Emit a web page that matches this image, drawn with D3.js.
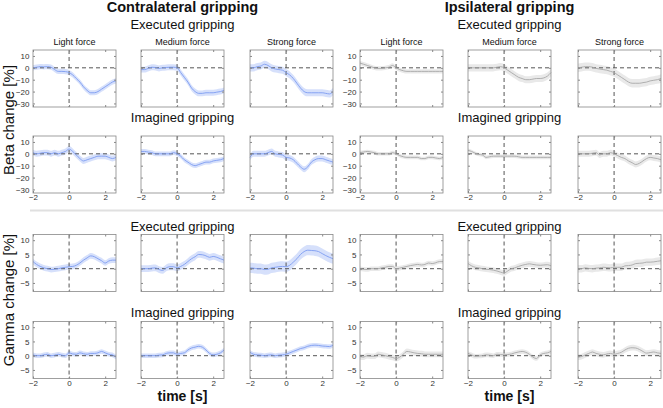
<!DOCTYPE html>
<html><head><meta charset="utf-8">
<script src="https://cdn.jsdelivr.net/npm/d3@7"></script>
<style>body{margin:0;background:#fff}svg{display:block;font-family:"Liberation Sans",Arial,sans-serif}</style>
</head><body><svg id="c" width="663" height="408"></svg>
<script>
const time = [-2,-1.8,-1.6,-1.4,-1.2,-1.0,-0.8,-0.6,-0.4,-0.2,0,0.2,0.4,0.6,0.8,1.0,1.2,1.4,1.6,1.8,2.0,2.2,2.4,2.6];
const groups = ["Contralateral gripping","Ipsilateral gripping"];
const forces = ["Light force","Medium force","Strong force"];
const conditions = ["Executed gripping","Imagined gripping","Executed gripping","Imagined gripping"];
const yLabels = ["Beta change [%]","Gamma change [%]"];
const xTicks = [-2,0,2];
const betaTicks = [10,0,-10,-20,-30];
const gammaTicks = [10,5,0,-5];

// Beta, executed
const betaExecContra = [
 [0,0.5,1,0.8,1,0.5,-1.5,-3,-3,-3.2,-4,-6,-9,-12,-16,-19,-21,-21,-20,-18,-16,-14,-12,-11],
 [-1.5,-1.5,-0.5,0.5,0.3,-0.5,0,0.3,0.5,0.5,0,-4,-8,-12,-17,-20,-21.5,-21.5,-21,-21,-21,-20.5,-20,-19],
 [0,0,1,1.5,3,2,0,-1,-1.5,-2,-4,-6,-9,-13,-17,-20,-21,-21,-21,-21,-21,-21.5,-22,-20]];
const betaExecIpsi = [
 [4,3,2,1,0,-0.5,-0.5,0,0.5,2,0,-1.5,-2.5,-3,-3,-3,-3,-3,-3,-3,-3,-3,-3,-3],
 [0,0,0,0,0,0,0,0,0.5,1,0,-2,-4,-6,-8,-9,-10,-10,-9.5,-9,-9,-8.5,-7,-4],
 [0,0.5,1,1,0.5,-0.5,-1,-1.5,-2,-3,-4,-6,-8,-10,-12,-13,-13,-13,-12.5,-12,-11,-10.5,-10,-9]];
// Beta, imagined
const betaImagContra = [
 [1,0,0.5,1,1,0,1,0,1,2,4,2,-1,-4,-6,-5,-4,-3,-2,-2,-2,-3,-4,-3],
 [2,2,1.5,1,0,0,0,0,0,1,0,-2,-5,-7,-9,-10,-9,-8,-7,-7,-6,-5.5,-5,-4],
 [-3,0,0,0,0,1,2,0,-0.5,-1,-3,-3.5,-5,-8,-11,-13,-11,-7,-5,-4,-4,-5,-6,-7]];
const betaImagIpsi = [
 [1,1.5,2,1.5,1,0,0,0,0,1,0,-1.5,-2.5,-3,-3,-3,-3,-4,-4,-3,-3,-3.5,-4,-3],
 [3,2,0.5,-0.5,-1,-3,-2.5,-2,-2,-2,-2,-2,-2,-2,-2.5,-3,-3,-3,-3,-3,-3,-3,-3,-3],
 [0,0,0,0,0.5,1,-1,0,0,1,0,-1.5,-3,-4,-6,-7.5,-9,-8,-6,-4,-3,-3.5,-4,-5]];
// Gamma, executed
const gammaExecContra = [
 [2.5,1.5,0.8,0.3,0,-0.3,-0.2,0,0.3,0.5,0.7,0.8,1.2,2,3,3.8,4.5,4.2,3.5,2.8,2,2.7,3,3],
 [0,0,0,0.2,0.3,-0.3,-0.6,0.3,0.7,0.7,0.3,0.8,1.5,2.5,3.5,4.2,5,4.9,4.5,4,4.3,4,3.5,3],
 [0.3,0.2,0,0,-0.3,-0.2,0.3,0.5,0.7,0.8,0.7,1.2,2.3,3.5,5,6,6.5,6.4,6.3,6,5.3,4.6,4,3.5]];
const gammaExecIpsi = [
 [0,-0.2,-0.3,0,0,0,0.3,0.5,0.8,0.8,0,0.2,0.5,0.8,1.1,1.3,1.5,1.3,1.5,2,1.8,2.1,2.5,2.5],
 [1.8,1,0.5,0.3,0,-0.2,-0.3,-0.5,-0.8,-1.2,-1.5,-0.8,0,0.3,0.8,1.2,1.5,1.7,1.5,1.3,1.2,1.3,1.4,1],
 [0,0,0.3,0.1,0,0.2,0.3,0.5,0.4,0.3,0.5,0.5,0.5,1,1.1,1.3,1.8,1.9,2,2.3,2.3,2.4,2.6,2.8]];
// Gamma, imagined
const gammaImagContra = [
 [0.3,0,0,0.3,0.5,0,0.2,0.5,0.2,0,1,0.6,0.5,1,0.7,0.5,0.8,0.8,1,1.5,1,0.5,0.3,-0.5],
 [0,0,0,0,0,0.2,0.3,0.8,1,1,0.5,0.8,1,2,2.7,3,3.3,3,2,0.8,0.3,0.5,1,2],
 [1.2,0.5,0.3,0.2,0,0.2,0.3,0,0.2,0.3,0.5,1,1.5,2,2.5,2.8,3.3,3.6,3.7,3.6,3.4,3.3,3.2,3.7]];
const gammaImagIpsi = [
 [-0.3,-0.5,0,-0.2,-0.2,0.5,0.3,0,-0.3,-0.6,-1,-0.5,0.5,1.5,1.3,1,0.8,0.7,0.5,0.5,0.5,0.5,0.5,0.5],
 [0.8,0.3,-0.2,-0.1,0,0.3,0.2,0,0.5,0.4,0.3,0.4,0.6,1,1.3,1.5,1.2,0.5,-0.5,-1,0.3,0.8,1,1.5],
 [-0.5,-0.3,0.3,0.8,1.3,0.8,0.5,0.3,0.6,0.8,0.5,0.8,1.2,2,2.6,2.8,2.7,2.2,1.5,0.9,1.1,1.3,1,0.8]];
// Band half-widths (SEM) per panel: rows x 6 columns
const semRows = [
 [2.2,2.5,3,1.8,3,3.5],
 [2.5,2,2.5,1.5,1.5,2.5],
 [1,1.2,1.8,0.8,1,1.3],
 [0.8,0.8,0.8,1,0.8,1]];

const rowData = [
 [...betaExecContra,...betaExecIpsi],
 [...betaImagContra,...betaImagIpsi],
 [...gammaExecContra,...gammaExecIpsi],
 [...gammaImagContra,...gammaImagIpsi]];

const svg = d3.select("#c");
const colLeft = [33,141,250,360,468,578];
const pw = 83, ph = 57;
const rowTop = [50,136,234.5,321.5];
const condBaseline = [29,121.5,231,316.5];
const blue = "#7d9cf2", blueBand = "#d6e0fb";
const grey = "#a8a8a8", greyBand = "#e9e9e9";
const frame = "#888";

const x = d3.scaleLinear().domain([-2,2.6]).range([0,pw]);
const yBeta = d3.scaleLinear().domain([-33,15]).range([ph,0]);
const yGamma = d3.scaleLinear().domain([-8,12]).range([ph,0]);

// titles
[0,1].forEach(g=>{
  const cx = colLeft[g*3+1]+pw/2;
  svg.append("text").attr("x",cx).attr("y",12).attr("text-anchor","middle")
    .attr("font-size",14.5).attr("font-weight","bold").attr("fill","#111").text(groups[g]);
  svg.append("text").attr("x",cx).attr("y",400.5).attr("text-anchor","middle")
    .attr("font-size",14).attr("font-weight","bold").attr("fill","#111").text("time [s]");
  conditions.forEach((c,r)=>{
    svg.append("text").attr("x",cx).attr("y",condBaseline[r]).attr("text-anchor","middle")
      .attr("font-size",13).attr("fill","#111").text(c);
  });
  forces.forEach((f,i)=>{
    svg.append("text").attr("x",colLeft[g*3+i]+pw/2).attr("y",rowTop[0]-5).attr("text-anchor","middle")
      .attr("font-size",9).attr("fill","#111").text(f);
  });
});
// y labels
[[yLabels[0],120],[yLabels[1],300]].forEach(([t,cy])=>{
  svg.append("text").attr("transform",`translate(14,${cy}) rotate(-90)`).attr("text-anchor","middle")
    .attr("font-size",15).attr("fill","#111").text(t);
});
// separator
svg.append("line").attr("x1",30).attr("x2",663).attr("y1",210.5).attr("y2",210.5)
  .attr("stroke","#e0e0e0").attr("stroke-width",2);

rowData.forEach((series,r)=>{
  const y = r<2 ? yBeta : yGamma;
  const ticks = r<2 ? betaTicks : gammaTicks;
  series.forEach((vals,c)=>{
    const contra = c<3;
    const sem = semRows[r][c];
    const g = svg.append("g").attr("transform",`translate(${colLeft[c]},${rowTop[r]})`);
    const pts = time.map((t,i)=>({t,v:vals[i]}));
    g.append("path").datum(pts)
      .attr("d",d3.area().curve(d3.curveMonotoneX).x(d=>x(d.t)).y0(d=>y(d.v-sem)).y1(d=>y(d.v+sem)))
      .attr("fill",contra?blueBand:greyBand);
    g.append("line").attr("x1",0).attr("x2",pw).attr("y1",y(0)).attr("y2",y(0))
      .attr("stroke","#555").attr("stroke-width",1).attr("stroke-dasharray","4,3");
    g.append("line").attr("x1",x(0)).attr("x2",x(0)).attr("y1",0).attr("y2",ph)
      .attr("stroke","#555").attr("stroke-width",1).attr("stroke-dasharray","4,3");
    g.append("path").datum(pts)
      .attr("d",d3.line().curve(d3.curveMonotoneX).x(d=>x(d.t)).y(d=>y(d.v)))
      .attr("fill","none").attr("stroke",contra?blue:grey).attr("stroke-width",0.9);
    // axes ticks (inward)
    const ay = g.append("g").call(d3.axisLeft(y).tickValues(ticks).tickSize(-2).tickPadding(3.5).tickFormat(d3.format("d")));
    const ax2 = g.append("g").attr("transform",`translate(${pw},0)`).call(d3.axisRight(y).tickValues(ticks).tickSize(-2).tickFormat(""));
    const bx = g.append("g").attr("transform",`translate(0,${ph})`).call(d3.axisBottom(x).tickValues(xTicks).tickSize(-2).tickPadding(1.5).tickFormat(d3.format("d")));
    const tx = g.append("g").call(d3.axisTop(x).tickValues(xTicks).tickSize(-2).tickFormat(""));
    [ay,ax2,bx,tx].forEach(a=>{a.select(".domain").remove();a.selectAll("line").attr("stroke",frame);});
    ay.selectAll("text").attr("font-size",8).attr("fill","#333").attr("font-family","Liberation Sans, Arial")
      .style("display",(c===0||c===3)?null:"none");
    bx.selectAll("text").attr("font-size",8).attr("fill","#333").attr("font-family","Liberation Sans, Arial")
      .style("display",(r===1||r===3)?null:"none");
    g.append("rect").attr("x",0).attr("y",0).attr("width",pw).attr("height",ph)
      .attr("fill","none").attr("stroke",frame).attr("stroke-width",0.8);
  });
});
</script></body></html>
